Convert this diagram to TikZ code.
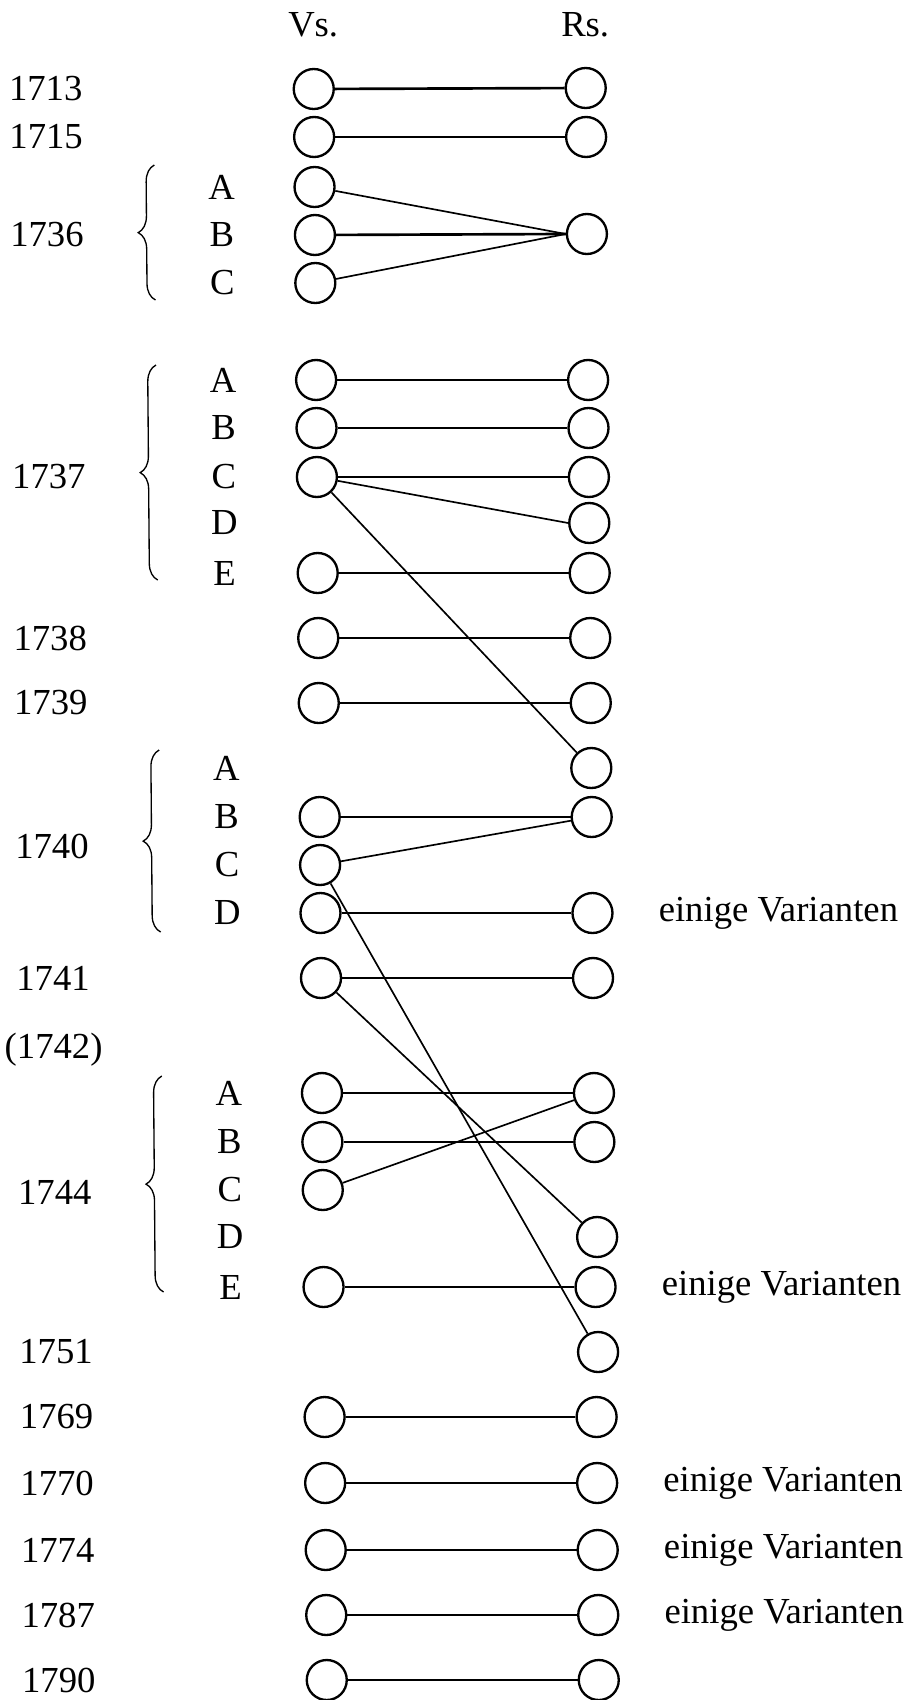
\documentclass[tikz,border=0pt]{standalone}
\usepackage{fontspec}
\setmainfont{Liberation Serif}
\usetikzlibrary{positioning,decorations.pathreplacing}

\begin{document}
\begin{tikzpicture}[x=0.3pt,y=-0.3pt,font=\fontsize{11}{13}\selectfont]
  \tikzset{ circ/.style={circle,draw,line width=0.7pt,inner sep=0pt,minimum size=12pt},
    hline/.style={line width=0.8pt},
    dline/.style={line width=0.5pt},
    br/.style={decorate,decoration={brace,amplitude=5pt},line width=0.4pt},
  }
  \useasboundingbox (0,0) rectangle (911,1700);
  \begin{scope}[xslant=-0.0082]
  \node (Vs) at (313,25) {Vs.};
  \node (Rs) at (585,25) {Rs.};

  % the years
  \node (Y13) at (45,89) {1713};
  \node (Y15) at (45,137) {1715};
  \node (Y36) at (45,235) {1736};
  \node (Y37) at (45,477) {1737};
  \node (Y38) at (45,638) {1738};
  \node (Y39) at (45,703) {1739};
  \node (Y40) at (45,846) {1740};
  \node (Y41) at (45,978) {1741};
  \node (Y42) at (45,1050) {(1742)};
  \node (Y44) at (45,1192) {1744};
  \node (Y51) at (45,1352) {1751};
  \node (Y69) at (45,1417) {1769};
  \node (Y70) at (45,1483) {1770};
  \node (Y74) at (45,1550) {1774};
  \node (Y87) at (45,1615) {1787};
  \node (Y90) at (45,1680) {1790};

  % the letters and braces
  \node (L36A) at (220,187) {A};
  \node (L36B) at (220,235) {B};
  \node (L36C) at (220,283) {C};
  \draw[br] (153,300) -- (153,165);
  \node (L37A) at (220,380) {A};
  \node (L37B) at (220,428) {B};
  \node (L37C) at (220,477) {C};
  \node (L37D) at (220,523) {D};
  \node (L37E) at (220,573) {E};
  \draw[br] (153,580) -- (153,365);
  \node (L40A) at (220,768) {A};
  \node (L40B) at (220,817) {B};
  \node (L40C) at (220,865) {C};
  \node (L40D) at (220,913) {D};
  \draw[br] (153,932) -- (153,750);
  \node (L44A) at (220,1093) {A};
  \node (L44B) at (220,1142) {B};
  \node (L44C) at (220,1190) {C};
  \node (L44D) at (220,1237) {D};
  \node (L44E) at (220,1287) {E};
  \draw[br] (153,1292) -- (153,1076);

  % the dots, Vs. and Rs.
  \node[circ] (V13) at (313,89) {};
  \node[circ] (R13) at (585,88) {};
  \node[circ] (V15) at (313,137) {};
  \node[circ] (R15) at (585,137) {};
  \node[circ] (V36A) at (313,187) {};
  \node[circ] (V36B) at (313,235) {};
  \node[circ] (V36C) at (313,283) {};
  \node[circ] (R36) at (585,234) {};
  \node[circ] (V37A) at (313,380) {};
  \node[circ] (R37A) at (585,380) {};
  \node[circ] (V37B) at (313,428) {};
  \node[circ] (R37B) at (585,428) {};
  \node[circ] (V37C) at (313,477) {};
  \node[circ] (R37C) at (585,477) {};
  \node[circ] (R37D) at (585,523) {};
  \node[circ] (V37E) at (313,573) {};
  \node[circ] (R37E) at (585,573) {};
  \node[circ] (V38) at (313,638) {};
  \node[circ] (R38) at (585,638) {};
  \node[circ] (V39) at (313,703) {};
  \node[circ] (R39) at (585,703) {};
  \node[circ] (R40A) at (585,768) {};
  \node[circ] (V40B) at (313,817) {};
  \node[circ] (R40B) at (585,817) {};
  \node[circ] (V40C) at (313,865) {};
  \node[circ] (V40D) at (313,913) {};
  \node[circ] (R40D) at (585,913) {};
  \node[circ] (V41) at (313,978) {};
  \node[circ] (R41) at (585,978) {};
  \node[circ] (V44A) at (313,1093) {};
  \node[circ] (R44A) at (585,1093) {};
  \node[circ] (V44B) at (313,1142) {};
  \node[circ] (R44B) at (585,1142) {};
  \node[circ] (V44C) at (313,1190) {};
  \node[circ] (R44D) at (587,1237) {};
  \node[circ] (V44E) at (313,1287) {};
  \node[circ] (R44E) at (585,1287) {};
  \node[circ] (R51) at (587,1352) {};
  \node[circ] (V69) at (313,1417) {};
  \node[circ] (R69) at (585,1417) {};
  \node[circ] (V70) at (313,1483) {};
  \node[circ] (R70) at (585,1483) {};
  \node[circ] (V74) at (313,1550) {};
  \node[circ] (R74) at (585,1550) {};
  \node[circ] (V87) at (313,1615) {};
  \node[circ] (R87) at (585,1615) {};
  \node[circ] (V90) at (313,1680) {};
  \node[circ] (R90) at (585,1680) {};

  \node[right=10pt of R40D] (E40) {einige Varianten};
  \node[right=10pt of R44E] (E44) {einige Varianten};
  \node[right=10pt of R70] (E70) {einige Varianten};
  \node[right=10pt of R74] (E74) {einige Varianten};
  \node[right=10pt of R87] (E87) {einige Varianten};

  % the connection between the dots
  \draw[hline] (V13) -- (R13);
  \draw[hline] (V15) -- (R15);
  \draw[dline] (V36A) -- (R36.west);
  \draw[hline] (V36B) -- (R36.west);
  \draw[dline] (V36C) -- (R36.west);
  \draw[hline] (V37A) -- (R37A);
  \draw[hline] (V37B) -- (R37B);
  \draw[hline] (V37C) -- (R37C);
  \draw[dline] (V37C) -- (R37D.west);
  \draw[dline] (V37C) -- (R40A);
  \draw[hline] (V37E) -- (R37E);
  \draw[hline] (V38) -- (R38);
  \draw[hline] (V39) -- (R39);
  \draw[hline] (V40B) -- (R40B);
  \draw[dline] (V40C) -- (R40B);
  \draw[dline] (V40C) -- (R51);
  \draw[hline] (V40D) -- (R40D);
  \draw[hline] (V41) -- (R41);
  \draw[dline] (V41) -- (R44D);
  \draw[hline] (V44A) -- (R44A);
  \draw[dline] (V44C) -- (R44A);
  \draw[hline] (V44B) -- (R44B);
  \draw[hline] (V44E) -- (R44E);
  \draw[hline] (V69) -- (R69);
  \draw[hline] (V70) -- (R70);
  \draw[hline] (V74) -- (R74);
  \draw[hline] (V87) -- (R87);
  \draw[hline] (V90) -- (R90);
  \end{scope}
\end{tikzpicture}
\end{document}
